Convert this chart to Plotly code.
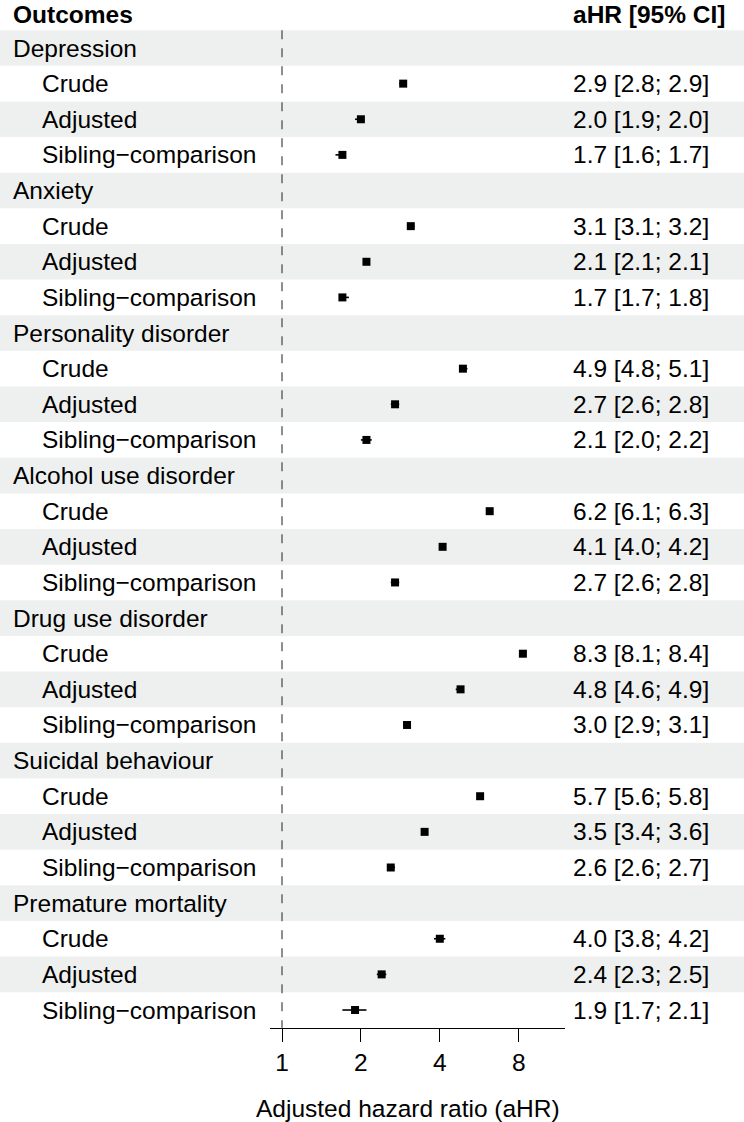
import math
import plotly.graph_objects as go

outcomes = ["Depression", "Anxiety", "Personality disorder", "Alcohol use disorder",
            "Drug use disorder", "Suicidal behaviour", "Premature mortality"]
models = ["Crude", "Adjusted", "Sibling\u2212comparison"]

hr = [[2.9, 2.0, 1.7], [3.1, 2.1, 1.7], [4.9, 2.7, 2.1], [6.2, 4.1, 2.7],
      [8.3, 4.8, 3.0], [5.7, 3.5, 2.6], [4.0, 2.4, 1.9]]
lo = [[2.8, 1.9, 1.6], [3.1, 2.1, 1.7], [4.8, 2.6, 2.0], [6.1, 4.0, 2.6],
      [8.1, 4.6, 2.9], [5.6, 3.4, 2.6], [3.8, 2.3, 1.7]]
hi = [[2.9, 2.0, 1.7], [3.2, 2.1, 1.8], [5.1, 2.8, 2.2], [6.3, 4.2, 2.8],
      [8.4, 4.9, 3.1], [5.8, 3.6, 2.7], [4.2, 2.5, 2.1]]

tick_vals = [1, 2, 4, 8]
x_title = "Adjusted hazard ratio (aHR)"
left_header = "Outcomes"
right_header = "aHR [95% CI]"

W, H = 744, 1122
ROW0, ROWH = 48.0, 35.63
FONT = "Liberation Sans, Arial, sans-serif"
FS = 24.5
BAND = "#EEF0EF"
PAD = 3  # annotation inner padding compensation

def prow(px):
    return (px - ROW0) / ROWH

rows = []  # (label, indent, hr, lo, hi)
for gi, g in enumerate(outcomes):
    rows.append((g, False, None, None, None))
    for mi, m in enumerate(models):
        rows.append((m, True, hr[gi][mi], lo[gi][mi], hi[gi][mi]))
n = len(rows)

shapes = []
annotations = []
for i, (lab, ind, h, l, u) in enumerate(rows):
    if i % 2 == 0:
        shapes.append(dict(type="rect", xref="paper", yref="y", x0=0, x1=1,
                           y0=i - 0.5, y1=i + 0.5, fillcolor=BAND,
                           line=dict(width=0), layer="below"))
    annotations.append(dict(text=lab, xref="paper", yref="y",
                            x=((43 if ind else 14) - PAD) / W, y=i, xanchor="left",
                            yanchor="middle", showarrow=False,
                            font=dict(family=FONT, size=FS, color="black")))
    if h is not None:
        annotations.append(dict(text=f"{h:.1f} [{l:.1f}; {u:.1f}]", xref="paper",
                                yref="y", x=(574 - PAD) / W, y=i, xanchor="left",
                                yanchor="middle", showarrow=False,
                                font=dict(family=FONT, size=FS, color="black")))

annotations.append(dict(text=f"<b>{left_header}</b>", xref="paper", yref="y",
                        x=(14 - PAD) / W, y=prow(14), xanchor="left", yanchor="middle",
                        showarrow=False, font=dict(family=FONT, size=FS, color="black")))
annotations.append(dict(text=f"<b>{right_header}</b>", xref="paper", yref="y",
                        x=(574 - PAD) / W, y=prow(14), xanchor="left", yanchor="middle",
                        showarrow=False, font=dict(family=FONT, size=FS, color="black")))
annotations.append(dict(text=x_title, xref="paper", yref="y",
                        x=408 / W, y=prow(1108), xanchor="center", yanchor="middle",
                        showarrow=False, font=dict(family=FONT, size=FS, color="black")))

shapes.append(dict(type="line", xref="x", yref="y", x0=1, x1=1, y0=-0.5, y1=n - 0.5,
                   line=dict(color="#444444", width=1.2, dash="dash")))

xs, ys, ep, em = [], [], [], []
for i, (lab, ind, h, l, u) in enumerate(rows):
    if h is not None:
        xs.append(h)
        ys.append(i)
        ep.append(u - h)
        em.append(h - l)

fig = go.Figure(go.Scatter(
    x=xs, y=ys, mode="markers",
    marker=dict(symbol="square", size=8, color="black"),
    error_x=dict(type="data", symmetric=False, array=ep, arrayminus=em,
                 color="black", thickness=1.6, width=0),
    hoverinfo="x+y", showlegend=False))

log2px = 78.9
xl = 2 ** (-12 / log2px)
xr = 2 ** (283 / log2px)
axis_y_px = 1028

fig.update_layout(
    width=W, height=H, margin=dict(l=0, r=0, t=0, b=0),
    paper_bgcolor="white", plot_bgcolor="white",
    shapes=shapes, annotations=annotations,
    xaxis=dict(type="log", range=[math.log10(xl), math.log10(xr)],
               domain=[270 / W, 565 / W], anchor="free",
               position=1 - axis_y_px / H,
               tickvals=tick_vals, ticktext=[str(v) for v in tick_vals],
               showgrid=False, zeroline=False, showline=True, linecolor="black",
               linewidth=1, ticks="outside", ticklen=13, tickwidth=1,
               tickcolor="black",
               tickfont=dict(family=FONT, size=FS, color="black")),
    yaxis=dict(range=[prow(H), prow(0)], domain=[0, 1], visible=False,
               showgrid=False, zeroline=False),
)

fig.write_html("out.html", config={"displayModeBar": False},
               post_script="document.body.style.margin='0';document.body.style.overflow='hidden';")
